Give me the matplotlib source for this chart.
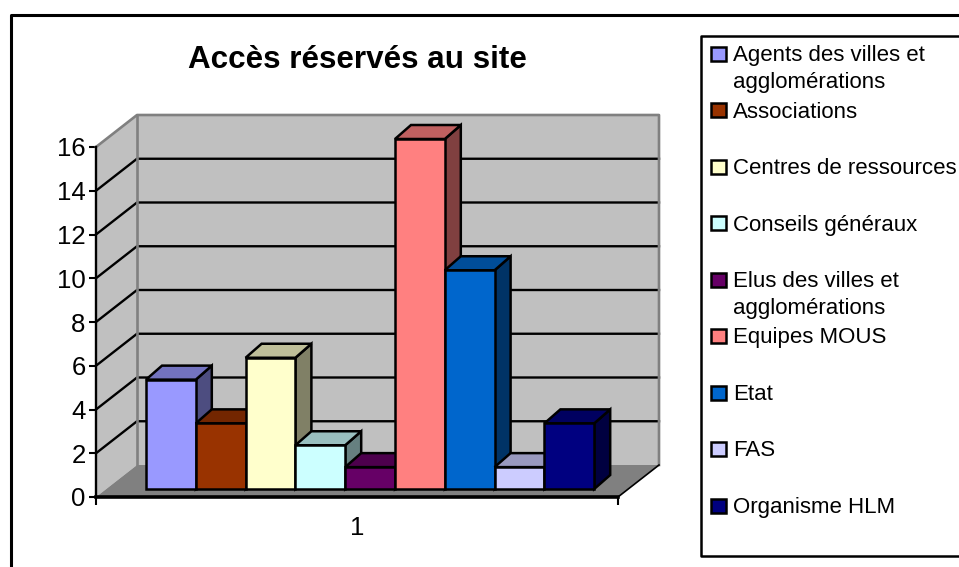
import matplotlib
matplotlib.use('Agg')
import matplotlib.pyplot as plt
from matplotlib.patches import Polygon, Rectangle

plt.rcParams['font.family'] = ['Liberation Sans', 'DejaVu Sans']

title = 'Accès réservés au site'
categories = ['Agents des villes et\nagglomérations', 'Associations', 'Centres de ressources',
              'Conseils généraux', 'Elus des villes et\nagglomérations', 'Equipes MOUS',
              'Etat', 'FAS', 'Organisme HLM']
values = [5, 3, 6, 2, 1, 16, 10, 1, 3]
colors = ['#9999FF', '#993300', '#FFFFCC', '#CCFFFF', '#660066',
          '#FF8080', '#0066CC', '#CCCCFF', '#000080']
y_ticks = [0, 2, 4, 6, 8, 10, 12, 14, 16]
x_label = '1'

W, H = 959, 567
ymax = y_ticks[-1]

# oblique depth of the floor, in data units
depth_x = 41 / 522
depth_y = 32 / 21.875
# bars
bar_x0 = 50 / 522
bar_y0 = 8 / 21.875
bar_w = 49.8 / 522
bar_dx = 16 / 522
bar_dy = 14 / 21.875


def shade(color, k):
    rgb = matplotlib.colors.to_rgb(color)
    return tuple(c * k for c in rgb)


fig = plt.figure(figsize=(W / 100, H / 100), dpi=100)

# overlay in pixels for the frame, title and legend
bg = fig.add_axes([0, 0, 1, 1])
bg.set_xlim(0, W)
bg.set_ylim(H, 0)
bg.axis('off')
bg.plot([10.5, 10.5, W], [H, 14.7, 14.7], color='black', lw=2.2)
bg.plot([W, 701, 701, W], [36, 36, 556, 556], color='black', lw=1.8)
bg.text(357, 60, title, fontsize=22.6, fontweight='bold', ha='center', va='center')

row_y = 53.5
for name, c in zip(categories, colors):
    bg.add_patch(Rectangle((710.5, row_y - 7), 15, 14, facecolor=c, edgecolor='black', lw=1.8))
    for k, line in enumerate(name.split('\n')):
        bg.text(733, row_y - 0.5 + k * 27, line, fontsize=16, ha='left', va='center_baseline')
    row_y += 56.5

ax = fig.add_axes([96 / W, 1 - 497 / H, 522 / W, 350 / H])
ax.set_xlim(0, 1)
ax.set_ylim(0, ymax)
ax.patch.set_visible(False)
for s in ['top', 'right']:
    ax.spines[s].set_visible(False)
ax.spines['left'].set_linewidth(1.7)
ax.spines['bottom'].set_linewidth(2.6)
ax.spines['left'].set_zorder(30)
ax.spines['bottom'].set_zorder(30)
ax.set_yticks(y_ticks)
ax.tick_params(axis='y', labelsize=18.5, length=5, width=1.5, pad=2.5)
for lab in ax.get_yticklabels():
    lab.set_va('center_baseline')
ax.set_xticks([0, 1])
ax.set_xticklabels([])
ax.tick_params(axis='x', length=6, width=1.5)
ax.set_xticks([0.5], minor=True)
ax.set_xticklabels([x_label], minor=True)
ax.tick_params(axis='x', which='minor', length=0, labelsize=18.5, pad=14)

# walls and floor
ax.add_patch(Polygon([(depth_x, depth_y), (1 + depth_x, depth_y), (1 + depth_x, ymax + depth_y),
                      (depth_x, ymax + depth_y)], facecolor='#C0C0C0', edgecolor='none', clip_on=False, zorder=1))
ax.add_patch(Polygon([(0, 0), (depth_x, depth_y), (depth_x, ymax + depth_y), (0, ymax)],
                     facecolor='#C0C0C0', edgecolor='none', clip_on=False, zorder=1))
ax.add_patch(Polygon([(0, 0), (1, 0), (1 + depth_x, depth_y), (depth_x, depth_y)],
                     facecolor='#808080', edgecolor='none', clip_on=False, zorder=1))

# gridlines
for t in y_ticks[1:-1]:
    ax.plot([0, depth_x, 1 + depth_x], [t, t + depth_y, t + depth_y], color='black', lw=1.7,
            clip_on=False, zorder=2, solid_joinstyle='miter')
# wall edges
ax.plot([0, depth_x, 1 + depth_x, 1 + depth_x], [ymax, ymax + depth_y, ymax + depth_y, depth_y],
        color='#808080', lw=1.9, clip_on=False, zorder=3)
ax.plot([depth_x, depth_x], [depth_y, ymax + depth_y], color='#808080', lw=1.9, clip_on=False, zorder=3)
ax.plot([1, 1 + depth_x], [0, depth_y], color='black', lw=1.2, clip_on=False, zorder=3)

# bars, left to right so that each front covers the side before it
for i, (v, c) in enumerate(zip(values, colors)):
    x0 = bar_x0 + i * bar_w
    x1 = x0 + bar_w
    y0 = bar_y0
    y1 = y0 + v
    z = 10 + i
    style = dict(edgecolor='black', lw=1.8, joinstyle='miter', clip_on=False, zorder=z)
    ax.add_patch(Polygon([(x1, y0), (x1 + bar_dx, y0 + bar_dy), (x1 + bar_dx, y1 + bar_dy), (x1, y1)],
                         facecolor=shade(c, 0.5), **style))
    ax.add_patch(Polygon([(x0, y1), (x1, y1), (x1 + bar_dx, y1 + bar_dy), (x0 + bar_dx, y1 + bar_dy)],
                         facecolor=shade(c, 0.75), **style))
    ax.add_patch(Polygon([(x0, y0), (x1, y0), (x1, y1), (x0, y1)], facecolor=c, **style))

fig.savefig('out.png', dpi=100)
